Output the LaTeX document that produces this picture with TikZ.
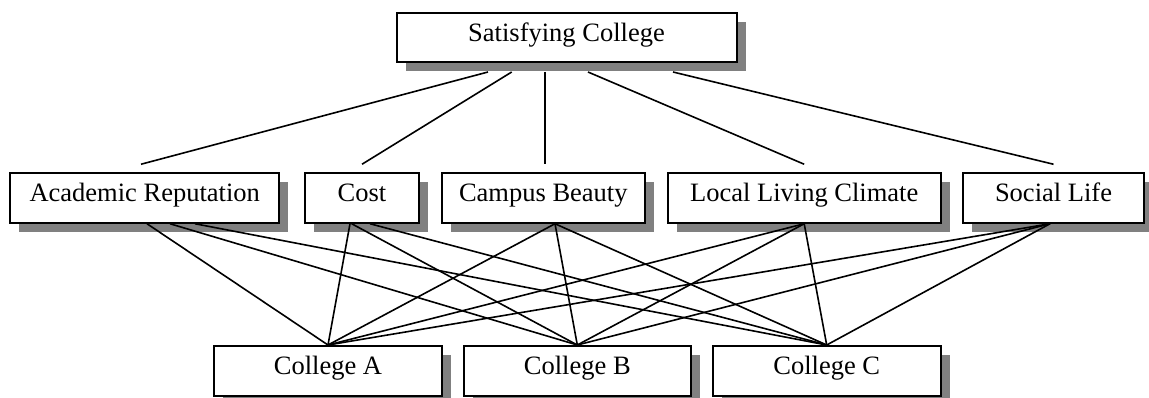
\documentclass[tikz,border=0pt]{standalone}
\usepackage{fontspec}
\setmainfont{Liberation Serif}
\usetikzlibrary{shadows}
\definecolor{shadowgray}{RGB}{128,128,128}
\tikzset{
  box/.style={draw=black, line width=2pt, fill=white, inner sep=0pt,
    minimum height=49.5pt, text height=0.75em, text depth=0.09em,
    font=\fontsize{26.5}{30}\selectfont,
    general shadow={shadow xshift=9pt, shadow yshift=-9pt, fill=shadowgray}},
  link/.style={draw=black, line width=1.6pt}
}
\begin{document}
\begin{tikzpicture}[x=1pt,y=-1pt]
\useasboundingbox (0,0) rectangle (1149,398);
% top
\node[box, minimum width=340pt] (top) at (566.5,37.75) {Satisfying College};
% middle level
\node[box, minimum width=269.3pt] (acad) at (144.7,198) {Academic Reputation};
\node[box, minimum width=114pt] (cost) at (362,198) {Cost};
\node[box, minimum width=203.3pt] (campus) at (543.3,198) {Campus Beauty};
\node[box, minimum width=273pt] (local) at (804.2,198) {Local Living Climate};
\node[box, minimum width=181.6pt] (social) at (1053.5,198) {Social Life};
% bottom level
\node[box, minimum width=227.4pt, minimum height=50pt] (ca) at (328,371) {College A};
\node[box, minimum width=226.7pt, minimum height=50pt] (cb) at (577.3,371) {College B};
\node[box, minimum width=228pt, minimum height=50pt] (cc) at (826.7,371) {College C};
% start points below the top box shadow
\coordinate (t1) at (488,72);
\coordinate (t2) at (511.7,72);
\coordinate (t3) at (545,72);
\coordinate (t4) at (588,72);
\coordinate (t5) at (673,72);
\draw[link] (t1) -- ([xshift=-3.7pt,yshift=8pt]acad.north);
\draw[link] (t2) -- ([yshift=8pt]cost.north);
\draw[link] (t3) -- ([xshift=1.7pt,yshift=8pt]campus.north);
\draw[link] (t4) -- ([yshift=8pt]local.north);
\draw[link] (t5) -- ([yshift=8pt]social.north);
% middle to colleges
\draw[link] ([xshift=2.3pt]acad.south) -- (ca.north);
\draw[link] ([xshift=25.3pt]acad.south) -- (cb.north);
\draw[link] ([xshift=50.3pt]acad.south) -- (cc.north);
\draw[link] ([xshift=-12pt]cost.south) -- (ca.north);
\draw[link] ([xshift=-10.3pt]cost.south) -- (cb.north);
\draw[link] ([xshift=8pt]cost.south) -- (cc.north);
\draw[link] ([xshift=11.7pt]campus.south) -- (ca.north);
\draw[link] ([xshift=11.7pt]campus.south) -- (cb.north);
\draw[link] ([xshift=11.7pt]campus.south) -- (cc.north);
\draw[link] (local.south) -- (ca.north);
\draw[link] (local.south) -- (cb.north);
\draw[link] (local.south) -- (cc.north);
\draw[link] ([xshift=-3.5pt]social.south) -- (ca.north);
\draw[link] ([xshift=-3.5pt]social.south) -- (cb.north);
\draw[link] ([xshift=-3.5pt]social.south) -- (cc.north);
\end{tikzpicture}
\end{document}
